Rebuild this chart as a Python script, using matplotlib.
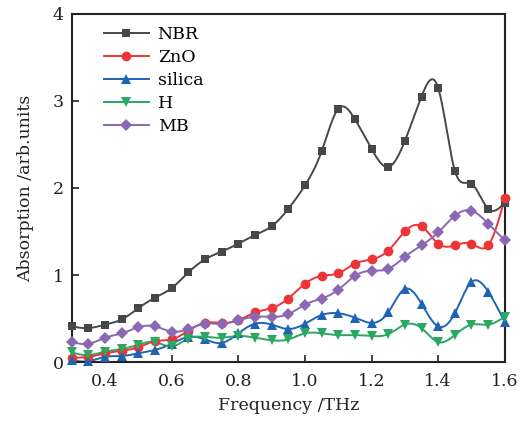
import numpy as np
import matplotlib
matplotlib.use("Agg")
import matplotlib.pyplot as plt
from matplotlib.lines import Line2D

freq = [0.30, 0.35, 0.40, 0.45, 0.50, 0.55, 0.60, 0.65, 0.70, 0.75, 0.80, 0.85, 0.90,
        0.95, 1.00, 1.05, 1.10, 1.15, 1.20, 1.25, 1.30, 1.35, 1.40, 1.45, 1.50, 1.55, 1.60]

nbr = [0.41, 0.39, 0.43, 0.49, 0.62, 0.74, 0.85, 1.03, 1.18, 1.27, 1.36, 1.46, 1.56,
       1.76, 2.03, 2.42, 2.91, 2.79, 2.45, 2.24, 2.54, 3.05, 3.15, 2.20, 2.05, 1.76, 1.83]
zno = [0.05, 0.06, 0.10, 0.13, 0.17, 0.24, 0.26, 0.36, 0.45, 0.45, 0.48, 0.57, 0.62,
       0.73, 0.90, 0.99, 1.02, 1.13, 1.18, 1.28, 1.50, 1.56, 1.36, 1.34, 1.36, 1.34, 1.88]
silica = [0.02, 0.01, 0.06, 0.07, 0.10, 0.14, 0.21, 0.29, 0.26, 0.22, 0.33, 0.44, 0.43,
          0.38, 0.44, 0.54, 0.56, 0.51, 0.45, 0.57, 0.84, 0.67, 0.41, 0.56, 0.92, 0.81, 0.46]
h = [0.11, 0.08, 0.12, 0.15, 0.20, 0.23, 0.18, 0.27, 0.29, 0.28, 0.30, 0.28, 0.25,
     0.26, 0.33, 0.33, 0.31, 0.31, 0.30, 0.32, 0.43, 0.39, 0.23, 0.31, 0.43, 0.43, 0.52]
mb = [0.23, 0.21, 0.28, 0.33, 0.40, 0.41, 0.35, 0.38, 0.44, 0.44, 0.48, 0.52, 0.52,
      0.55, 0.66, 0.73, 0.83, 0.99, 1.05, 1.07, 1.21, 1.34, 1.49, 1.68, 1.74, 1.59, 1.40]

labels = ["NBR", "ZnO", "silica", "H", "MB"]
colors = ["#45484b", "#ec3439", "#1f63b5", "#2aa862", "#8a68b4"]
markers = ["s", "o", "^", "v", "D"]
msizes = [6.4, 7.0, 7.0, 7.0, 6.4]
series = [nbr, zno, silica, h, mb]


def natural_spline(x, y, n=600):
    x = np.asarray(x, float)
    y = np.asarray(y, float)
    k = len(x)
    hh = np.diff(x)
    A = np.zeros((k, k))
    b = np.zeros(k)
    A[0, 0] = 1
    A[-1, -1] = 1
    for i in range(1, k - 1):
        A[i, i - 1] = hh[i - 1]
        A[i, i] = 2 * (hh[i - 1] + hh[i])
        A[i, i + 1] = hh[i]
        b[i] = 3 * ((y[i + 1] - y[i]) / hh[i] - (y[i] - y[i - 1]) / hh[i - 1])
    c = np.linalg.solve(A, b)
    xs = np.linspace(x[0], x[-1], n)
    idx = np.clip(np.searchsorted(x, xs) - 1, 0, k - 2)
    dx = xs - x[idx]
    bb = (y[idx + 1] - y[idx]) / hh[idx] - hh[idx] * (2 * c[idx] + c[idx + 1]) / 3
    dd = (c[idx + 1] - c[idx]) / (3 * hh[idx])
    ys = y[idx] + bb * dx + c[idx] * dx ** 2 + dd * dx ** 3
    return xs, ys


plt.rcParams['font.family'] = ['DejaVu Serif']
fig = plt.figure(figsize=(5.28, 4.21), dpi=100)
ax = fig.add_axes([0.136, 0.140, 0.820, 0.827])

handles = []
for ys, lab, col, mk, ms in zip(series, labels, colors, markers, msizes):
    sx, sy = natural_spline(freq, ys)
    ax.plot(sx, sy, color=col, lw=1.4, zorder=2)
    ax.plot(freq, ys, linestyle="none", marker=mk, color=col, ms=ms,
            markeredgewidth=0, zorder=3, clip_on=False)
    handles.append(Line2D([], [], color=col, lw=1.4, marker=mk, ms=ms,
                          markeredgewidth=0))

ax.set_xlim(0.3, 1.6)
ax.set_ylim(0, 4)
ax.set_xticks([0.4, 0.6, 0.8, 1.0, 1.2, 1.4, 1.6])
ax.set_xticklabels(["0.4", "0.6", "0.8", "1.0", "1.2", "1.4", "1.6"])
ax.set_yticks([0, 1, 2, 3, 4])
ax.tick_params(direction="in", length=5, width=1.2, labelsize=12.5, colors="#222222",
               top=False, right=False)
ax.tick_params(axis="x", pad=8)
ax.tick_params(axis="y", pad=6)
for sp in ax.spines.values():
    sp.set_linewidth(1.5)
    sp.set_color("#222222")

ax.set_xlabel("Frequency /THz", fontsize=12.5, color="#222222", labelpad=5)
ax.set_ylabel("Absorption /arb.units", fontsize=12.5, color="#222222", labelpad=13)

ax.legend(handles, labels, loc="upper left", frameon=False, fontsize=12.5,
          handlelength=2.6, handletextpad=0.5, labelspacing=0.35,
          borderaxespad=0.2, bbox_to_anchor=(0.05, 0.995))

fig.savefig("out.png", dpi=100)
